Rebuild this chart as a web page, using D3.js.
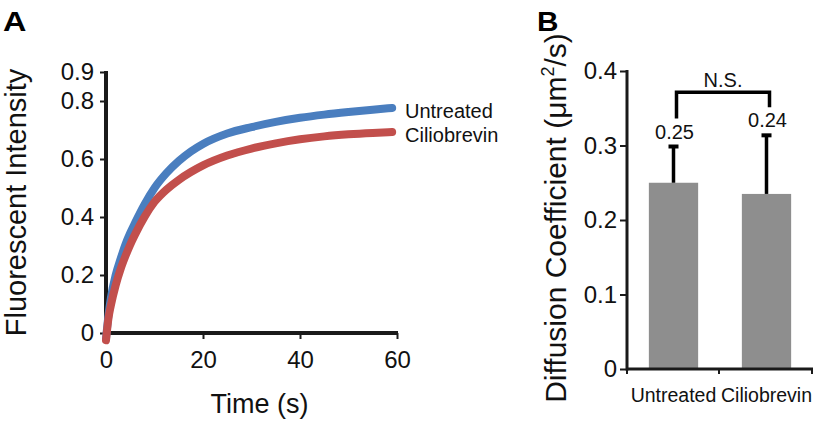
<!DOCTYPE html>
<html>
<head>
<meta charset="utf-8">
<script src="https://cdn.jsdelivr.net/npm/d3@7"></script>
<style>
  html, body { margin: 0; padding: 0; background: #fff; }
  svg { display: block; font-family: "Liberation Sans", Arial, sans-serif; }
</style>
</head>
<body>
<svg id="chart" width="822" height="423"></svg>
<script>
// ---------- Panel A data ----------
const timeS = [0, 0.5, 1, 2, 3, 4, 5, 6, 8, 10, 12.5, 15, 17.5, 20, 25, 30, 35, 40, 45, 50, 55, 59];
const untreatedCurve = [-0.02, 0.06, 0.12, 0.2, 0.255, 0.305, 0.345, 0.38, 0.445, 0.5, 0.552, 0.593, 0.626, 0.652, 0.688, 0.71, 0.728, 0.742, 0.753, 0.762, 0.77, 0.776];
const ciliobrevinCurve = [-0.025, 0.05, 0.095, 0.165, 0.22, 0.265, 0.305, 0.34, 0.402, 0.452, 0.495, 0.528, 0.555, 0.578, 0.612, 0.636, 0.654, 0.668, 0.678, 0.685, 0.69, 0.693];
const seriesNames = ["Untreated", "Ciliobrevin"];
const xTicksA = [0, 20, 40, 60];
const yTicksA = [0, 0.2, 0.4, 0.6, 0.8, 0.9];

// ---------- Panel B data ----------
const categoriesB = ["Untreated", "Ciliobrevin"];
const meansB = [0.25, 0.235];
const errorsB = [0.05, 0.08];
const valueLabelsB = ["0.25", "0.24"];
const yTicksB = [0, 0.1, 0.2, 0.3, 0.4];
const sigLabel = "N.S.";

const svg = d3.select("#chart");
const ink = "#1a1a1a";
const blue = "#4a7ebf";
const red = "#c24f4c";
const FONT = "'Liberation Sans', Arial, sans-serif";

// ================= Panel A =================
const xA = d3.scaleLinear().domain([0, 60]).range([106, 397]);
const yA = d3.scaleLinear().domain([0, 0.9]).range([333, 72]);

svg.append("text").attr("x", 3).attr("y", 31)
  .attr("font-size", 27).attr("font-weight", "bold").attr("fill", "#000")
  .attr("transform", "translate(3,31) scale(1.2,1) translate(-3,-31)")
  .text("A");

const gAy = svg.append("g").attr("transform", `translate(${xA(0)},0)`)
  .call(d3.axisLeft(yA).tickValues(yTicksA).tickSize(6).tickPadding(6)
    .tickFormat(d => d === 0 ? "0" : d3.format(".1f")(d)));
gAy.select(".domain").remove();
gAy.selectAll(".tick line").attr("stroke", ink).attr("stroke-width", 2);
gAy.selectAll(".tick text").attr("font-size", 24).attr("fill", "#111").attr("font-family", FONT);

const gAx = svg.append("g").attr("transform", `translate(0,${yA(0)})`)
  .call(d3.axisBottom(xA).tickValues(xTicksA).tickSize(6).tickPadding(12));
gAx.select(".domain").remove();
gAx.selectAll(".tick line").attr("stroke", ink).attr("stroke-width", 2);
gAx.selectAll(".tick text").attr("font-size", 24).attr("fill", "#111").attr("font-family", FONT);

// axis lines (thick)
svg.append("line").attr("x1", xA(0)).attr("x2", xA(0))
  .attr("y1", yA(0.9) - 1).attr("y2", yA(0) + 2)
  .attr("stroke", ink).attr("stroke-width", 4);
svg.append("line").attr("x1", xA(0) - 2).attr("x2", xA(60) + 1)
  .attr("y1", yA(0)).attr("y2", yA(0))
  .attr("stroke", ink).attr("stroke-width", 4);

// curves
const lineGen = d3.line().x(d => xA(d[0])).y(d => yA(d[1])).curve(d3.curveMonotoneX);
const curveData = [
  { name: seriesNames[0], color: blue, values: timeS.map((t, i) => [t, untreatedCurve[i]]) },
  { name: seriesNames[1], color: red, values: timeS.map((t, i) => [t, ciliobrevinCurve[i]]) }
];
svg.selectAll("path.curve").data(curveData).join("path")
  .attr("class", "curve")
  .attr("d", d => lineGen(d.values))
  .attr("fill", "none")
  .attr("stroke", d => d.color)
  .attr("stroke-width", 8)
  .attr("stroke-linecap", "round")
  .attr("stroke-linejoin", "round");

svg.selectAll("text.curveLabel").data(curveData).join("text")
  .attr("class", "curveLabel")
  .attr("x", xA(60) + 8)
  .attr("y", d => yA(d.values[d.values.length - 1][1]) + 3)
  .attr("dy", "0.35em")
  .attr("font-size", 20).attr("fill", "#111")
  .text(d => d.name);

// axis titles
svg.append("text")
  .attr("transform", `translate(26,${(yA(0) + yA(0.9)) / 2}) rotate(-90)`)
  .attr("text-anchor", "middle").attr("font-size", 29).attr("fill", "#111")
  .text("Fluorescent Intensity");
svg.append("text")
  .attr("x", (xA(0) + xA(60)) / 2 + 8).attr("y", 413)
  .attr("text-anchor", "middle").attr("font-size", 27).attr("fill", "#111")
  .text("Time (s)");

// ================= Panel B =================
const xB = d3.scaleBand().domain(categoriesB).range([627, 813])
  .paddingInner(0.47).paddingOuter(0.235);
const yB = d3.scaleLinear().domain([0, 0.4]).range([369, 71]);

svg.append("text").attr("x", 537).attr("y", 31)
  .attr("font-size", 27).attr("font-weight", "bold").attr("fill", "#000")
  .attr("transform", "translate(537,31) scale(1.1,1) translate(-537,-31)")
  .text("B");

// bars
svg.selectAll("rect.bar").data(categoriesB).join("rect")
  .attr("class", "bar")
  .attr("x", d => xB(d))
  .attr("width", xB.bandwidth())
  .attr("y", (d, i) => yB(meansB[i]))
  .attr("height", (d, i) => yB(0) - yB(meansB[i]))
  .attr("fill", "#8e8e8e");

// error bars
categoriesB.forEach((c, i) => {
  const cx = xB(c) + xB.bandwidth() / 2;
  const top = yB(meansB[i] + errorsB[i]);
  svg.append("line").attr("x1", cx).attr("x2", cx)
    .attr("y1", yB(meansB[i])).attr("y2", top)
    .attr("stroke", "#000").attr("stroke-width", 3.5);
  svg.append("line").attr("x1", cx - 5).attr("x2", cx + 5)
    .attr("y1", top + 1).attr("y2", top + 1)
    .attr("stroke", "#000").attr("stroke-width", 4);
  svg.append("text").attr("x", cx + 1).attr("y", top - 7)
    .attr("text-anchor", "middle").attr("font-size", 20).attr("fill", "#111")
    .text(valueLabelsB[i]);
});

// significance bracket
const legBottoms = categoriesB.map((c, i) => yB(meansB[i] + errorsB[i]) - 27);
const bracketY = Math.min(...legBottoms) - 15;
const bx = categoriesB.map(c => xB(c) + xB.bandwidth() / 2 + 3);
svg.append("path")
  .attr("d", `M${bx[0]},${legBottoms[0]} V${bracketY} H${bx[1]} V${legBottoms[1]}`)
  .attr("fill", "none").attr("stroke", "#000").attr("stroke-width", 3.5);
svg.append("text").attr("x", (bx[0] + bx[1]) / 2).attr("y", bracketY - 5)
  .attr("text-anchor", "middle").attr("font-size", 20).attr("fill", "#111")
  .text(sigLabel);

// y axis B
const gBy = svg.append("g").attr("transform", `translate(627,0)`)
  .call(d3.axisLeft(yB).tickValues(yTicksB).tickSize(7).tickPadding(3)
    .tickFormat(d => d === 0 ? "0" : d3.format(".1f")(d)));
gBy.select(".domain").remove();
gBy.selectAll(".tick line").attr("stroke", ink).attr("stroke-width", 2);
gBy.selectAll(".tick text").attr("font-size", 24).attr("fill", "#111").attr("font-family", FONT);

svg.append("line").attr("x1", 627).attr("x2", 627)
  .attr("y1", yB(0.4) - 1).attr("y2", yB(0) + 1.5)
  .attr("stroke", ink).attr("stroke-width", 3);
svg.append("line").attr("x1", 626).attr("x2", 813)
  .attr("y1", yB(0)).attr("y2", yB(0))
  .attr("stroke", ink).attr("stroke-width", 3);

// x ticks at category boundaries
const boundaries = [xB.range()[0], (xB.range()[0] + xB.range()[1]) / 2 - 1, xB.range()[1] - 1];
svg.selectAll("line.xbtick").data(boundaries).join("line")
  .attr("class", "xbtick")
  .attr("x1", d => d).attr("x2", d => d)
  .attr("y1", yB(0)).attr("y2", yB(0) + 5)
  .attr("stroke", ink).attr("stroke-width", 2);

svg.selectAll("text.catLabel").data(categoriesB).join("text")
  .attr("class", "catLabel")
  .attr("x", d => xB(d) + xB.bandwidth() / 2)
  .attr("y", 402)
  .attr("text-anchor", "middle").attr("font-size", 19.5).attr("fill", "#111")
  .text(d => d);

// y title B
const titleB = svg.append("text")
  .attr("transform", `translate(566,218) rotate(-90)`)
  .attr("text-anchor", "middle").attr("font-size", 30).attr("fill", "#111");
titleB.append("tspan").text("Diffusion Coefficient (μm");
titleB.append("tspan").attr("font-size", 18).attr("dy", -12).text("2");
titleB.append("tspan").attr("dy", 12).text("/s)");
</script>
</body>
</html>
